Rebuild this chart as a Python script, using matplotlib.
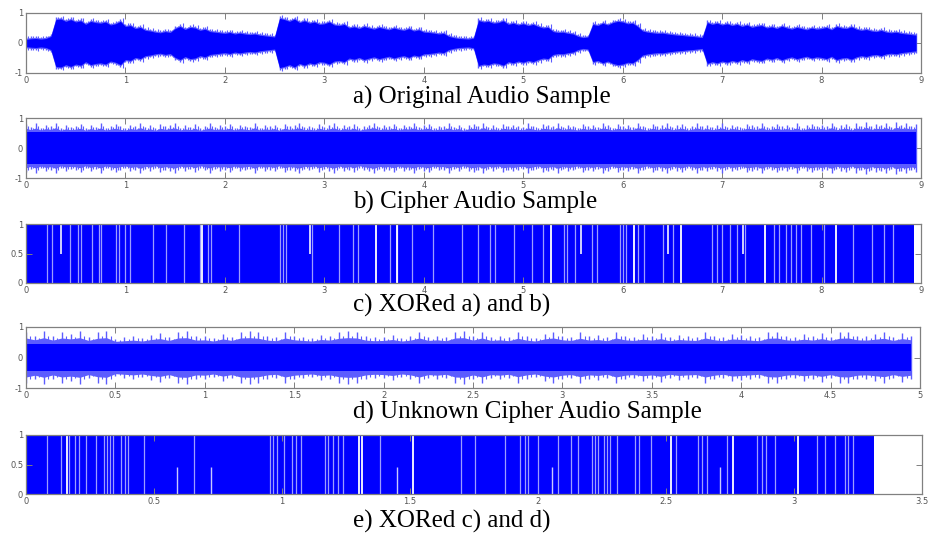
import numpy as np
import matplotlib
matplotlib.use("Agg")
import matplotlib.pyplot as plt

# a) original audio, envelope every 0.05 s
env_a = [
    0.12, 0.14, 0.15, 0.13, 0.15, 0.22, 0.78, 0.80, 0.72, 0.78,
    0.70, 0.74, 0.62, 0.72, 0.68, 0.66, 0.70, 0.60, 0.64, 0.72,
    0.55, 0.58, 0.48, 0.52, 0.42, 0.40, 0.36, 0.34, 0.38, 0.35,
    0.48, 0.55, 0.45, 0.52, 0.50, 0.42, 0.46, 0.38, 0.36, 0.34,
    0.32, 0.35, 0.30, 0.33, 0.30, 0.28, 0.30, 0.26, 0.24, 0.22,
    0.20, 0.82, 0.78, 0.72, 0.80, 0.68, 0.74, 0.66, 0.70, 0.62,
    0.64, 0.70, 0.60, 0.58, 0.62, 0.50, 0.54, 0.48, 0.55, 0.50,
    0.46, 0.52, 0.48, 0.44, 0.50, 0.45, 0.42, 0.48, 0.40, 0.44,
    0.36, 0.35, 0.33, 0.30, 0.32, 0.22, 0.18, 0.15, 0.14, 0.13,
    0.16, 0.75, 0.70, 0.72, 0.66, 0.68, 0.74, 0.62, 0.66, 0.60,
    0.64, 0.58, 0.62, 0.55, 0.50, 0.52, 0.38, 0.35, 0.36, 0.32,
    0.30, 0.22, 0.18, 0.20, 0.62, 0.58, 0.66, 0.60, 0.68, 0.72,
    0.70, 0.64, 0.66, 0.55, 0.40, 0.36, 0.34, 0.32, 0.33, 0.30,
    0.28, 0.26, 0.25, 0.23, 0.22, 0.20, 0.18, 0.68, 0.62, 0.66,
    0.60, 0.64, 0.58, 0.62, 0.55, 0.60, 0.52, 0.56, 0.58, 0.50,
    0.54, 0.48, 0.56, 0.50, 0.46, 0.52, 0.48, 0.44, 0.50, 0.46,
    0.48, 0.52, 0.44, 0.55, 0.50, 0.48, 0.54, 0.46, 0.42, 0.45,
    0.40, 0.38, 0.42, 0.36, 0.34, 0.36, 0.32, 0.30, 0.28, 0.26,
]

# b) cipher audio, spike peaks every 0.05 s, solid core level
core_b = 0.52
peak_b = [
    0.80, 0.70, 0.82, 0.68, 0.78, 0.72, 0.84, 0.66, 0.76, 0.70,
    0.74, 0.80, 0.66, 0.78, 0.70, 0.82, 0.68, 0.74, 0.80, 0.72,
    0.68, 0.78, 0.72, 0.84, 0.70, 0.76, 0.66, 0.80, 0.72, 0.78,
    0.82, 0.68, 0.76, 0.70, 0.80, 0.66, 0.74, 0.82, 0.70, 0.76,
    0.72, 0.80, 0.68, 0.78, 0.74, 0.70, 0.84, 0.68, 0.76, 0.72,
    0.78, 0.66, 0.80, 0.72, 0.76, 0.82, 0.70, 0.74, 0.68, 0.80,
    0.70, 0.76, 0.82, 0.68, 0.78, 0.72, 0.80, 0.66, 0.74, 0.78,
    0.84, 0.70, 0.76, 0.72, 0.80, 0.68, 0.78, 0.74, 0.82, 0.70,
    0.76, 0.80, 0.68, 0.74, 0.72, 0.82, 0.70, 0.78, 0.66, 0.76,
    0.80, 0.72, 0.84, 0.70, 0.76, 0.68, 0.80, 0.74, 0.78, 0.72,
    0.70, 0.82, 0.74, 0.68, 0.80, 0.76, 0.72, 0.84, 0.70, 0.78,
    0.74, 0.68, 0.80, 0.72, 0.78, 0.70, 0.82, 0.76, 0.68, 0.80,
    0.72, 0.78, 0.70, 0.84, 0.74, 0.68, 0.80, 0.72, 0.76, 0.82,
    0.70, 0.76, 0.80, 0.68, 0.74, 0.82, 0.72, 0.78, 0.70, 0.76,
    0.82, 0.70, 0.78, 0.74, 0.68, 0.80, 0.76, 0.72, 0.84, 0.70,
    0.74, 0.80, 0.72, 0.78, 0.70, 0.82, 0.68, 0.76, 0.80, 0.74,
    0.78, 0.72, 0.84, 0.70, 0.76, 0.80, 0.68, 0.82, 0.74, 0.86,
    0.72, 0.80, 0.76, 0.84, 0.70, 0.86, 0.78, 0.82, 0.74, 0.80,
]

# c) XORed a) and b): white gaps in the solid 0/1 band
end_c = 8.93
gaps_c = [0.21, 0.26, 0.44, 0.52, 0.55, 0.66, 0.73, 0.755, 0.905, 0.935,
          0.996, 1.046, 1.28, 1.405, 1.59, 1.75, 1.83, 1.86, 2.14, 2.555,
          2.58, 2.615, 2.88, 3.15, 3.29, 3.34, 3.66, 3.73, 3.88, 4.09,
          4.38, 4.55, 4.67, 4.72, 4.91, 5.09, 5.20, 5.41, 5.44, 5.52,
          5.69, 5.74, 5.97, 6.0, 6.03, 6.15, 6.21, 6.41, 6.51, 6.90,
          6.95, 7.0, 7.08, 7.15, 7.23, 7.52, 7.57, 7.64, 7.69, 7.74,
          7.79, 7.89, 8.02, 8.32, 8.51, 8.63, 8.72]
bright_c = [1.77, 3.52, 3.73, 5.28, 6.11, 6.59, 7.43, 8.15]
half_c = [0.35, 2.857, 5.58, 6.46, 7.21]

# d) unknown cipher audio, spike peaks every 0.05 s
core_d = 0.44
peak_d = [
    0.84, 0.72, 0.86, 0.70, 0.84, 0.78, 0.86, 0.68, 0.82, 0.86,
    0.62, 0.66, 0.70, 0.64, 0.74, 0.80, 0.68, 0.84, 0.86, 0.70,
    0.72, 0.64, 0.78, 0.68, 0.84, 0.86, 0.82, 0.70, 0.66, 0.84,
    0.72, 0.68, 0.64, 0.74, 0.70, 0.82, 0.86, 0.84, 0.70, 0.66,
    0.68, 0.74, 0.64, 0.70, 0.84, 0.68, 0.72, 0.66, 0.84, 0.86,
    0.70, 0.84, 0.68, 0.72, 0.66, 0.82, 0.70, 0.64, 0.78, 0.84,
    0.72, 0.68, 0.82, 0.70, 0.74, 0.66, 0.84, 0.72, 0.68, 0.76,
    0.70, 0.80, 0.66, 0.74, 0.70, 0.68, 0.84, 0.72, 0.66, 0.78,
    0.74, 0.70, 0.66, 0.82, 0.84, 0.72, 0.68, 0.76, 0.70, 0.80,
    0.68, 0.82, 0.84, 0.72, 0.70, 0.76, 0.82, 0.68, 0.80, 0.72,
]

# e) XORed c) and d)
end_e = 3.314
gaps_e = [0.081, 0.137, 0.168, 0.191, 0.208, 0.234, 0.272, 0.305, 0.315,
          0.328, 0.341, 0.37, 0.387, 0.40, 0.461, 0.657, 0.953, 0.966,
          0.979, 1.008, 1.04, 1.053, 1.074, 1.168, 1.181, 1.20, 1.218,
          1.24, 1.383, 1.70, 1.754, 1.871, 1.93, 1.949, 1.962, 2.001,
          2.077, 2.129, 2.157, 2.21, 2.223, 2.236, 2.259, 2.268, 2.281,
          2.307, 2.379, 2.395, 2.44, 2.54, 2.625, 2.64, 2.66, 2.737,
          2.854, 2.874, 2.891, 2.926, 3.089, 3.121, 3.16, 3.199, 3.212,
          3.232]
bright_e = [0.159, 1.302, 1.311, 1.513, 2.52, 2.763, 3.017]
half_e = [0.589, 0.721, 1.448, 2.054, 2.71]

titles = ["a) Original Audio Sample", "b) Cipher Audio Sample",
          "c) XORed a) and b)", "d) Unknown Cipher Audio Sample",
          "e) XORed c) and d)"]

BLUE = "#0000ff"
LIGHT = "#5c5cff"
GREY = "#808080"

fig = plt.figure(figsize=(9.35, 5.33), dpi=100)

# (left, top, width, height) in pixels
boxes = [(26, 13, 895, 60), (26, 118, 895, 60), (26, 224, 895, 59),
         (26, 327, 894, 61), (26, 435, 896, 59)]
title_y = [97, 202, 305, 412, 521]


def make_axes(box):
    x, y, w, h = box
    ax = fig.add_axes([x / 935, 1 - (y + h) / 533, w / 935, h / 533])
    for s in ax.spines.values():
        s.set_color(GREY)
        s.set_linewidth(0.9)
        s.set_zorder(5)
    ax.tick_params(direction="in", top=True, right=True, length=4,
                   width=0.7, color=GREY, labelsize=6, labelcolor="#555555",
                   pad=2)
    return ax


def wave(ax, t, core, peak, dt, xmax, ticks, labels):
    # core: solid band, peak: light spiky fringe around it
    peak = np.asarray(peak)
    core = np.broadcast_to(core, peak.shape)
    mid = (peak + core) / 2
    ax.fill_between(t, -mid, mid, color=LIGHT, lw=0, zorder=1)
    ax.vlines(t, -peak, peak, color=LIGHT, lw=1.0, zorder=2)
    ax.vlines(t[:-1] + dt / 2, -(mid[:-1] + 0.06), mid[:-1] + 0.06,
              color=LIGHT, lw=0.8, zorder=2)
    ax.fill_between(t, -core, core, color=BLUE, lw=0, zorder=3)
    ax.set_xlim(0, xmax)
    ax.set_ylim(-1, 1)
    ax.set_yticks([-1, 0, 1])
    ax.set_yticklabels(["-1", "0", "1"])
    ax.set_xticks(ticks)
    ax.set_xticklabels(labels)


def xor_band(ax, end, gaps, bright, half, half_lo, xmax, ticks, labels):
    ax.fill_between([0, end], 0, 1, color=BLUE, lw=0)
    ax.vlines(gaps, 0, 1, color="#9d9dff", lw=0.9)
    ax.vlines(bright, 0, 1, color="white", lw=1.3)
    if half_lo:
        ax.vlines(half, 0, 0.45, color="#c8c8ff", lw=1.0)
    else:
        ax.vlines(half, 0.5, 1, color="#e0e0ff", lw=1.3)
    ax.set_xlim(0, xmax)
    ax.set_ylim(0, 1)
    ax.set_yticks([0, 0.5, 1])
    ax.set_yticklabels(["0", "0.5", "1"])
    ax.set_xticks(ticks)
    ax.set_xticklabels(labels)


ticks9 = list(range(10))
labels9 = [str(v) for v in ticks9]

ax = make_axes(boxes[0])
t_a = np.arange(len(env_a)) * 0.05
env = np.array(env_a)
wave(ax, t_a, env, env + 0.08, 0.05, 9, ticks9, labels9)

ax = make_axes(boxes[1])
t_b = np.arange(len(peak_b)) * 0.05
wave(ax, t_b, core_b, peak_b, 0.05, 9, ticks9, labels9)

ax = make_axes(boxes[2])
xor_band(ax, end_c, gaps_c, bright_c, half_c, False, 9, ticks9, labels9)

ax = make_axes(boxes[3])
t_d = np.arange(len(peak_d)) * 0.05
ticks5 = [0, 0.5, 1, 1.5, 2, 2.5, 3, 3.5, 4, 4.5, 5]
wave(ax, t_d, core_d, peak_d, 0.05, 5, ticks5, [f"{v:g}" for v in ticks5])

ax = make_axes(boxes[4])
ticks35 = [0, 0.5, 1, 1.5, 2, 2.5, 3, 3.5]
xor_band(ax, end_e, gaps_e, bright_e, half_e, True, 3.5, ticks35,
         [f"{v:g}" for v in ticks35])

for txt, ty in zip(titles, title_y):
    fig.text(353 / 935, 1 - ty / 533, txt, ha="left", va="center",
             family="Liberation Serif", fontsize=18)

fig.savefig("out.png", dpi=100)
